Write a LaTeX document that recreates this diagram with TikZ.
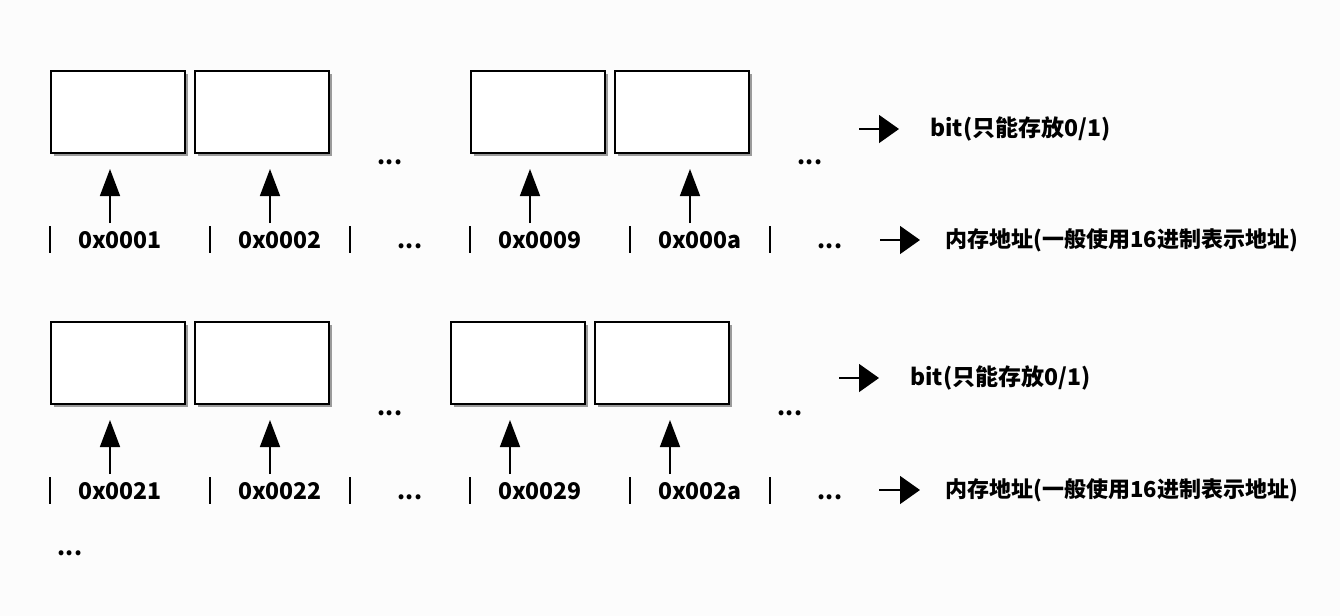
\documentclass[tikz,border=0pt]{standalone}
\usepackage{fontspec}
\setmainfont{Noto Sans CJK SC}
\usetikzlibrary{arrows.meta,calc,shadows}
\begin{document}
\begin{tikzpicture}[x=0.5pt,y=-0.5pt,
cell/.style={draw,line width=1pt,fill=white,inner sep=0pt,minimum width=67pt,minimum height=41pt,drop shadow={shadow xshift=1.6pt,shadow yshift=-1.6pt,fill=black!55,opacity=0.7}},
txt/.style={inner sep=0pt,anchor=base,font=\fontsize{11.5}{14}\selectfont\bfseries},
note/.style={txt,anchor=west},
uparr/.style={line width=0.75pt,-{Triangle[length=13.5pt,width=10pt]},shorten >=7.5pt},
rarr/.style={line width=0.75pt,-{Triangle[length=10pt,width=14pt]}},
sep/.style={line width=0.75pt}]
\fill[white!99!black](0,0)rectangle(1340,616);
\useasboundingbox(0,0)rectangle(1340,616);
\pgfmathsetmacro{\dy}{251}
% first row of cells
\foreach \n/\xc in {1/118,2/262,3/538,4/682}{\node[cell](ta\n) at (\xc,112){};}
\foreach \n/\lab/\xc in {1/0x0001/120,2/0x0002/280,3/0x0009/540,4/0x000a/700}{\node[txt](aa\n) at (\xc,248){\lab};}
\foreach \n/\xa in {1/110,2/270,3/530,4/690}{\coordinate(pa\n) at (\xa,223);\draw[uparr](pa\n)--(pa\n|-ta\n.south);}
\foreach \xv in {50,210,350,470,630,770}{\draw[sep](\xv,226)--++(0,27);}
\node[txt](da1) at (390,164){...};
\node[txt](da2) at (810,164){...};
\node[txt](da3) at (410,248){...};
\node[txt](da4) at (830,248){...};
\node[note](bita) at (930,129){bit(只能存放0/1)};
\coordinate(qa) at (859,129);
\draw[rarr,shorten >=15.5pt](qa)--(bita.west);
\node[note,font=\fontsize{11}{14}\selectfont\bfseries](mema) at (945,240){内存地址(一般使用16进制表示地址)};
\coordinate(ra) at (880,240);
\draw[rarr,shorten >=12.5pt](ra)--(mema.west);
% second row of cells
\foreach \n/\xc in {1/118,2/262,3/518,4/662}{\node[cell](tb\n) at (\xc,112+\dy){};}
\foreach \n/\lab/\xc in {1/0x0021/120,2/0x0022/280,3/0x0029/540,4/0x002a/700}{\node[txt](ab\n) at (\xc,248+\dy){\lab};}
\foreach \n/\xa in {1/110,2/270,3/510,4/670}{\coordinate(pb\n) at (\xa,223+\dy);\draw[uparr](pb\n)--(pb\n|-tb\n.south);}
\foreach \xv in {50,210,350,470,630,770}{\draw[sep](\xv,226+\dy)--++(0,27);}
\node[txt](db1) at (390,164+\dy){...};
\node[txt](db2) at (790,164+\dy){...};
\node[txt](db3) at (410,248+\dy){...};
\node[txt](db4) at (830,248+\dy){...};
\node[note](bitb) at (910,378){bit(只能存放0/1)};
\coordinate(qb) at (839,378);
\draw[rarr,shorten >=15.5pt](qb)--(bitb.west);
\node[note,font=\fontsize{11}{14}\selectfont\bfseries](memb) at (945,490){内存地址(一般使用16进制表示地址)};
\coordinate(rb) at (879,490);
\draw[rarr,shorten >=12.5pt](rb)--(memb.west);
\node[txt](dc) at (70,555){...};
\end{tikzpicture}
\end{document}
